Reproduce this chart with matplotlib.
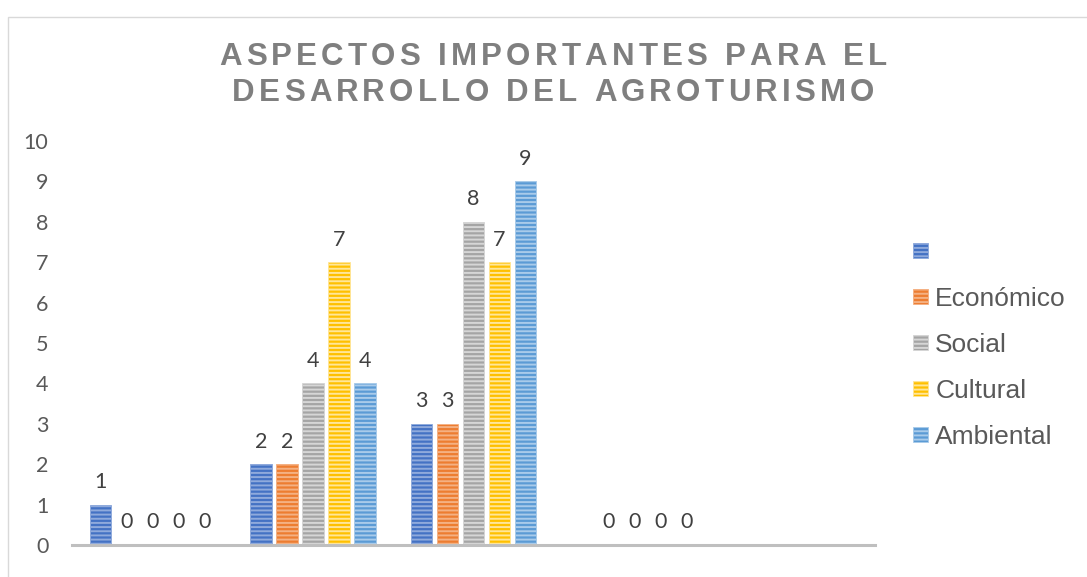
import numpy as np
import matplotlib
matplotlib.use("Agg")
import matplotlib.pyplot as plt
from matplotlib.patches import Patch, Rectangle
from matplotlib.font_manager import FontProperties

# ---------------- data ----------------
categories = ["", "", "", "", ""]
series_names = ["", "Económico", "Social", "Cultural", "Ambiental"]
serie_1 = [1, 2, 3, np.nan, np.nan]
economico = [0, 2, 3, 0, np.nan]
social = [0, 4, 8, 0, np.nan]
cultural = [0, 7, 7, 0, np.nan]
ambiental = [0, 4, 9, 0, np.nan]
y_ticks = [0, 1, 2, 3, 4, 5, 6, 7, 8, 9, 10]
title_lines = ["ASPECTOS IMPORTANTES PARA EL", "DESARROLLO DEL AGROTURISMO"]

series_values = [serie_1, economico, social, cultural, ambiental]
colors = ["#4472C4", "#ED7D31", "#A5A5A5", "#FFC000", "#5B9BD5"]
tints = ["#8FAADC", "#F4B183", "#D6D6D6", "#FFE699", "#A9CBEA"]

W, H = 1087, 577
plt.rcParams["hatch.linewidth"] = 1.4
fig = plt.figure(figsize=(W / 100, H / 100), dpi=100)
ax = fig.add_axes([72 / W, 1 - 545 / H, (875 - 72) / W, (545 - 141) / H])

x = np.arange(len(categories))
pitch = 26 / 160.6
width = 21.5 / 160.6
num_font = "Lato"
num_size = 15.5
for i, (vals, c, t) in enumerate(zip(series_values, colors, tints)):
    off = (i - 2) * pitch
    vals = np.array(vals, dtype=float)
    mask = ~np.isnan(vals)
    ax.bar(x[mask] + off, vals[mask], width, color=c, edgecolor=t,
           linewidth=0.6, hatch="----", zorder=2)
    for xi, v in zip(x[mask] + off, vals[mask]):
        ax.annotate(f"{int(v)}", (xi, v), xytext=(0, 9), textcoords="offset points",
                    ha="center", va="bottom", fontsize=num_size, color="#404040",
                    family=num_font)

ax.set_xlim(-0.5, len(categories) - 0.5)
ax.set_ylim(0, 10)
ax.set_yticks(y_ticks)
ax.set_yticklabels([str(v) for v in y_ticks], family=num_font, fontsize=num_size, color="#595959")
ax.set_xticks([])
ax.tick_params(axis="y", length=0, pad=17)
for s in ["left", "right", "top"]:
    ax.spines[s].set_visible(False)
ax.spines["bottom"].set_color("#BFBFBF")
ax.spines["bottom"].set_linewidth(2.2)

# chart border
fig.patches.append(Rectangle((8 / W, -0.1), 1.2, (H - 17) / H + 0.1, transform=fig.transFigure,
                             fill=False, edgecolor="#D9D9D9", linewidth=1.0))

# legend
handles = [Patch(facecolor=c, edgecolor=t, hatch="----", linewidth=0.6) for c, t in zip(colors, tints)]
fig.legend(handles, series_names, loc="center left", bbox_to_anchor=(913 / W, 1 - 345 / H),
           frameon=False, borderpad=0, borderaxespad=0, handlelength=0.56, handleheight=0.5,
           handletextpad=0.28, labelspacing=0.83,
           prop=FontProperties(family="Liberation Sans", size=19), labelcolor="#595959")

# letter-spaced title, drawn character by character
renderer = fig.canvas.get_renderer()
tprop = FontProperties(family="Liberation Sans", weight="bold", size=22.5)
spacing = 4.2

def char_w(ch):
    if ch == " ":
        a = renderer.get_text_width_height_descent("HH", tprop, ismath=False)[0]
        b = renderer.get_text_width_height_descent("H H", tprop, ismath=False)[0]
        return b - a
    return renderer.get_text_width_height_descent(ch, tprop, ismath=False)[0]

def spaced_title(s, xc, baseline):
    ws = [char_w(ch) for ch in s]
    total = sum(ws) + spacing * (len(s) - 1)
    xp = xc - total / 2
    for ch, w in zip(s, ws):
        if ch != " ":
            fig.text(xp / W, 1 - baseline / H, ch, fontproperties=tprop, color="#7F7F7F",
                     ha="left", va="baseline")
        xp += w + spacing

spaced_title(title_lines[0], 553, 65)
spaced_title(title_lines[1], 553, 101)

fig.savefig("out.png", dpi=100)
